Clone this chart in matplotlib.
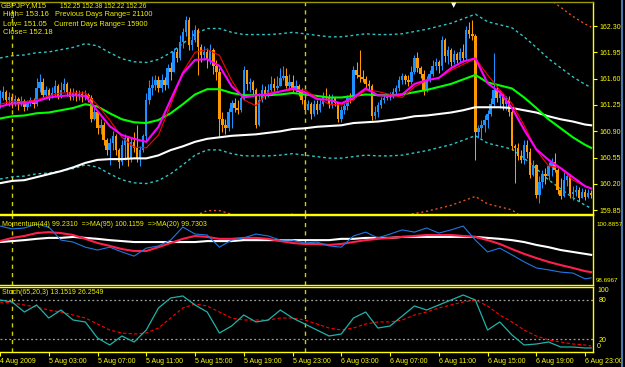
"""
GBPJPY M15 chart with moving averages, envelopes, momentum and stochastic panes.
"""

import matplotlib
matplotlib.use("Agg")
from matplotlib import pyplot as plt
from matplotlib.lines import Line2D

# 15-minute bars from 4 Aug 2009 23:00 to 6 Aug 23:30
first_open = 161.26
closes = [161.34, 161.42, 161.32, 161.35, 161.27, 161.33, 161.26, 161.30, 161.22, 161.27,
          161.32, 161.26, 161.47, 161.55, 161.38, 161.45, 161.37, 161.41, 161.50, 161.37,
          161.45, 161.53, 161.42, 161.35, 161.41, 161.37, 161.39, 161.35, 161.38, 161.34,
          161.07, 161.16, 160.94, 160.99, 160.78, 160.65, 160.74, 160.84, 160.65, 160.49,
          160.72, 160.81, 160.54, 160.76, 160.68, 160.54, 160.65, 160.84, 161.32, 161.47,
          161.51, 161.58, 161.47, 161.58, 161.51, 161.74, 161.69, 161.95, 161.87, 162.09,
          162.22, 162.38, 162.05, 162.11, 162.25, 162.02, 161.91, 161.95, 161.85, 161.98,
          161.77, 161.69, 161.07, 160.98, 160.94, 161.16, 161.27, 161.21, 161.18, 161.34,
          161.71, 161.53, 161.55, 161.45, 160.98, 161.32, 161.45, 161.38, 161.45, 161.53,
          161.47, 161.50, 161.61, 161.63, 161.50, 161.55, 161.45, 161.50, 161.42, 161.32,
          161.18, 161.26, 161.13, 161.26, 161.18, 161.26, 161.37, 161.35, 161.26, 161.34,
          161.27, 161.07, 161.18, 161.23, 161.34, 161.32, 161.71, 161.65, 161.62, 161.59,
          161.53, 161.50, 161.10, 161.16, 161.25, 161.32, 161.34, 161.35, 161.38, 161.42,
          161.47, 161.58, 161.63, 161.58, 161.55, 161.69, 161.87, 161.74, 161.66, 161.45,
          161.58, 161.66, 161.77, 161.82, 161.77, 162.11, 161.90, 161.98, 161.82, 161.93,
          161.85, 161.95, 161.87, 162.25, 162.19, 162.17, 160.89, 160.94, 160.99, 161.05,
          161.13, 161.26, 161.45, 161.34, 161.39, 161.26, 161.32, 161.16, 160.70, 160.68,
          160.57, 160.52, 160.72, 160.62, 160.32, 160.45, 160.05, 160.22, 160.33, 160.30,
          160.44, 160.49, 160.38, 160.12, 160.04, 160.25, 160.30, 160.06, 160.09, 160.12,
          160.01, 160.09, 160.02, 160.08, 160.05]
highs = [161.45, 161.50, 161.45, 161.42, 161.39, 161.38, 161.35, 161.37, 161.33, 161.32,
         161.35, 161.34, 161.61, 161.66, 161.61, 161.50, 161.47, 161.49, 161.58, 161.53,
         161.55, 161.61, 161.55, 161.47, 161.47, 161.45, 161.45, 161.43, 161.45, 161.41,
         161.38, 161.21, 161.16, 161.07, 161.02, 160.81, 160.81, 160.91, 160.86, 160.68,
         160.78, 160.87, 160.81, 160.81, 160.89, 160.98, 160.70, 160.87, 161.41, 161.58,
         161.63, 161.65, 161.63, 161.66, 161.62, 161.79, 161.82, 162.01, 162.01, 162.18,
         162.27, 162.43, 162.42, 162.25, 162.31, 162.27, 162.06, 162.03, 162.01, 162.06,
         162.01, 161.85, 161.74, 161.16, 161.07, 161.21, 161.32, 161.34, 161.32, 161.39,
         161.77, 161.71, 161.61, 161.58, 161.47, 161.41, 161.53, 161.50, 161.53, 161.63,
         161.61, 161.63, 161.74, 161.77, 161.74, 161.66, 161.65, 161.58, 161.53, 161.47,
         161.38, 161.32, 161.29, 161.32, 161.32, 161.33, 161.42, 161.47, 161.39, 161.39,
         161.34, 161.29, 161.23, 161.27, 161.38, 161.41, 161.77, 161.82, 161.98, 161.71,
         161.63, 161.58, 161.53, 161.23, 161.29, 161.35, 161.39, 161.39, 161.42, 161.47,
         161.51, 161.63, 161.67, 161.66, 161.65, 161.77, 161.91, 161.95, 161.77, 161.71,
         161.63, 161.71, 161.85, 161.87, 161.85, 162.17, 162.14, 162.03, 162.01, 161.98,
         161.95, 162.01, 162.06, 162.30, 162.35, 162.38, 162.19, 160.99, 161.05, 161.12,
         161.18, 161.34, 161.94, 161.50, 161.45, 161.39, 161.37, 161.37, 161.21, 160.73,
         160.74, 160.65, 160.78, 160.78, 160.68, 160.52, 160.46, 160.30, 160.38, 160.41,
         160.49, 160.54, 160.61, 160.41, 160.28, 160.36, 160.36, 160.33, 160.17, 160.18,
         160.16, 160.14, 160.13, 160.13, 160.12]
lows = [161.21, 161.32, 161.26, 161.23, 161.21, 161.23, 161.18, 161.23, 161.17, 161.18,
        161.23, 161.21, 161.23, 161.42, 161.34, 161.34, 161.32, 161.34, 161.37, 161.33,
        161.34, 161.42, 161.37, 161.32, 161.32, 161.30, 161.32, 161.29, 161.32, 161.29,
        161.02, 161.05, 160.87, 160.86, 160.72, 160.58, 160.45, 160.65, 160.58, 160.41,
        160.45, 160.52, 160.44, 160.49, 160.62, 160.49, 160.44, 160.62, 160.78, 161.26,
        161.38, 161.45, 161.42, 161.42, 161.45, 161.47, 161.58, 161.69, 161.82, 161.85,
        162.01, 162.17, 161.98, 161.98, 162.09, 161.65, 161.82, 161.85, 161.74, 161.79,
        161.66, 161.58, 160.82, 160.89, 160.86, 160.91, 160.94, 161.16, 161.13, 161.16,
        161.32, 161.45, 161.42, 161.37, 160.94, 160.97, 161.29, 161.33, 161.35, 161.42,
        161.42, 161.45, 161.50, 161.58, 161.47, 161.45, 161.42, 161.42, 161.37, 161.26,
        161.14, 161.18, 161.07, 161.10, 161.13, 161.16, 161.23, 161.32, 161.21, 161.21,
        161.23, 161.03, 161.02, 161.13, 161.18, 161.27, 161.32, 161.61, 161.55, 161.55,
        161.47, 161.45, 161.05, 161.07, 161.09, 161.21, 161.27, 161.32, 161.32, 161.34,
        161.38, 161.43, 161.53, 161.53, 161.50, 161.53, 161.66, 161.69, 161.61, 161.38,
        161.42, 161.55, 161.63, 161.71, 161.67, 161.71, 161.82, 161.79, 161.77, 161.79,
        161.81, 161.82, 161.82, 161.85, 162.14, 162.11, 160.52, 160.81, 160.81, 160.89,
        160.94, 161.10, 161.23, 161.29, 161.21, 161.18, 161.18, 161.10, 160.65, 160.21,
        160.52, 160.48, 160.46, 160.54, 160.28, 160.30, 160.01, 159.94, 160.14, 160.20,
        160.25, 160.30, 160.36, 160.06, 160.00, 160.02, 160.17, 160.01, 159.98, 160.04,
        159.97, 160.01, 159.98, 160.01, 160.01]

# indicator lines, read once per hour (every 4th bar) plus the last bar
line_bars = list(range(0, 193, 4)) + [194]
white_ma = [160.21, 160.24, 160.25, 160.29, 160.33, 160.37, 160.42, 160.48, 160.52, 160.53,
            160.53, 160.54, 160.54, 160.58, 160.65, 160.70, 160.76, 160.80, 160.82, 160.84,
            160.85, 160.86, 160.88, 160.90, 160.93, 160.94, 160.96, 160.97, 160.98, 161.01,
            161.02, 161.03, 161.05, 161.07, 161.10, 161.11, 161.13, 161.15, 161.18, 161.22,
            161.22, 161.22, 161.21, 161.18, 161.15, 161.10, 161.06, 161.03, 160.99, 160.98]
green_ma = [161.07, 161.10, 161.11, 161.14, 161.15, 161.18, 161.21, 161.26, 161.23, 161.14,
            161.06, 161.02, 161.01, 161.05, 161.14, 161.26, 161.39, 161.46, 161.46, 161.41,
            161.38, 161.38, 161.38, 161.39, 161.41, 161.39, 161.37, 161.35, 161.35, 161.37,
            161.39, 161.38, 161.38, 161.39, 161.42, 161.45, 161.49, 161.53, 161.59, 161.65,
            161.55, 161.51, 161.47, 161.35, 161.21, 161.06, 160.94, 160.82, 160.72, 160.68]
magenta_ma = [161.23, 161.27, 161.27, 161.30, 161.35, 161.37, 161.38, 161.37, 161.17, 160.97,
              160.85, 160.80, 160.76, 160.96, 161.32, 161.67, 161.85, 161.86, 161.77, 161.50,
              161.35, 161.38, 161.39, 161.43, 161.47, 161.42, 161.33, 161.32, 161.27, 161.35,
              161.47, 161.38, 161.37, 161.39, 161.53, 161.58, 161.61, 161.74, 161.83, 161.87,
              161.54, 161.42, 161.21, 160.92, 160.66, 160.52, 160.41, 160.29, 160.17, 160.14]
red_ma = [161.26, 161.30, 161.29, 161.32, 161.37, 161.41, 161.41, 161.41, 161.25, 161.05,
          160.82, 160.69, 160.68, 160.85, 161.25, 161.69, 161.95, 161.99, 161.91, 161.58,
          161.32, 161.24, 161.42, 161.43, 161.45, 161.45, 161.35, 161.26, 161.25, 161.32,
          161.45, 161.43, 161.39, 161.35, 161.49, 161.58, 161.61, 161.71, 161.79, 161.87,
          161.65, 161.45, 161.27, 160.98, 160.65, 160.44, 160.41, 160.25, 160.17, 160.14]
# envelopes around the green MA, in percent
ENV_INNER = 0.5
ENV_OUTER = 1.0

momentum = [100.54, 100.45, 100.48, 100.60, 100.51, 100.10, 100.04, 99.88, 99.79, 99.88,
            99.73, 99.60, 99.85, 99.92, 100.10, 100.51, 100.29, 100.26, 99.88, 100.10,
            100.17, 100.29, 100.23, 100.10, 100.10, 100.01, 100.04, 99.92, 99.88, 100.23,
            100.35, 100.17, 100.29, 100.42, 100.35, 100.48, 100.32, 100.42, 100.54, 100.10,
            99.73, 99.85, 99.64, 99.42, 99.23, 99.17, 99.10, 99.07, 98.89, 98.92]
momentum_ma20 = [100.07, 100.17, 100.23, 100.32, 100.35, 100.32, 100.26, 100.14, 100.01, 99.92,
                 99.82, 99.76, 99.76, 99.88, 100.01, 100.14, 100.23, 100.20, 100.14, 100.14,
                 100.17, 100.17, 100.14, 100.07, 100.01, 99.98, 99.98, 99.95, 99.98, 100.04,
                 100.10, 100.14, 100.17, 100.20, 100.23, 100.26, 100.26, 100.26, 100.23, 100.20,
                 100.10, 99.98, 99.82, 99.67, 99.54, 99.42, 99.32, 99.23, 99.13, 99.10]
momentum_ma95 = [100.04, 100.07, 100.10, 100.14, 100.17, 100.17, 100.20, 100.17, 100.14, 100.10,
                 100.07, 100.04, 100.04, 100.04, 100.04, 100.04, 100.04, 100.07, 100.07, 100.07,
                 100.10, 100.10, 100.10, 100.10, 100.10, 100.10, 100.10, 100.10, 100.14, 100.14,
                 100.17, 100.17, 100.17, 100.20, 100.20, 100.20, 100.20, 100.20, 100.20, 100.20,
                 100.17, 100.14, 100.10, 100.04, 99.95, 99.88, 99.79, 99.73, 99.67, 99.64]
MOM_MIN, MOM_MAX = 98.6967, 100.8857

stoch_k = [80.0, 76.9, 61.5, 72.3, 52.3, 64.6, 49.2, 46.2, 21.5, 10.8,
           24.6, 15.4, 33.8, 67.7, 83.1, 86.2, 72.3, 61.5, 29.2, 40.0,
           56.9, 46.2, 49.2, 64.6, 52.3, 43.1, 33.8, 24.6, 27.7, 52.3,
           61.5, 36.9, 40.0, 55.4, 70.8, 64.6, 72.3, 80.0, 87.7, 80.0,
           33.8, 46.2, 26.2, 10.8, 12.3, 15.4, 7.7, 7.7, 6.2, 6.2]
stoch_d = [76.9, 75.4, 72.3, 69.2, 64.6, 61.5, 56.9, 52.3, 43.1, 33.8,
           29.2, 27.7, 29.2, 36.9, 52.3, 67.7, 73.8, 70.8, 61.5, 52.3,
           49.2, 49.2, 49.2, 52.3, 52.3, 49.2, 43.1, 36.9, 33.8, 36.9,
           43.1, 46.2, 46.2, 49.2, 56.9, 61.5, 67.7, 72.3, 76.9, 80.0,
           70.8, 56.9, 46.2, 33.8, 24.6, 18.5, 15.4, 12.3, 10.8, 9.2]

price_ticks = [162.30, 161.95, 161.60, 161.25, 160.90, 160.55, 160.20, 159.85]
day_start_bars = [4, 100]
time_tick_bars = list(range(0, 193, 16))
time_tick_labels = ["4 Aug 2009", "5 Aug 03:00", "5 Aug 07:00", "5 Aug 11:00", "5 Aug 15:00",
                    "5 Aug 19:00", "5 Aug 23:00", "6 Aug 03:00", "6 Aug 07:00", "6 Aug 11:00",
                    "6 Aug 15:00", "6 Aug 19:00", "6 Aug 23:00"]

# colours
YELLOW = "#ffff00"
TEXT_YELLOW = "#f0f000"
UP_COLOR = "#1e90ff"
DOWN_COLOR = "#ff9900"
FONT = "Liberation Sans"

W, H = 625, 367
PLOT_RIGHT = 593


def px(x, y):
    return x / W, 1 - y / H


def make_panel(fig, top, bottom):
    ax = fig.add_axes([0, 1 - bottom / H, PLOT_RIGHT / W, (bottom - top) / H])
    ax.set_facecolor("black")
    ax.set_xlim(0, 194.6)
    ax.spines["left"].set_visible(False)
    for side in ("top", "bottom", "right"):
        ax.spines[side].set_color(YELLOW)
        ax.spines[side].set_linewidth(1)
    ax.tick_params(left=False, labelleft=False, bottom=False, labelbottom=False)
    for b in day_start_bars:
        ax.axvline(b, color="#d0d000", lw=1, dashes=(3, 3))
    return ax


fig = plt.figure(figsize=(W / 100, H / 100), dpi=100, facecolor="black")

# ---- price pane ----
ax = make_panel(fig, 2, 214)
ax.spines["top"].set_color("#9a9a00")
ax.set_ylim(159.80, 162.62)

opens = [first_open] + closes[:-1]
bars = list(range(len(closes)))
colors = [UP_COLOR if c >= o else DOWN_COLOR for o, c in zip(opens, closes)]
ax.vlines(bars, lows, highs, colors=colors, lw=0.75, zorder=2)
ax.bar(bars, [max(abs(c - o), 0.012) for o, c in zip(opens, closes)],
       bottom=[min(o, c) for o, c in zip(opens, closes)],
       width=0.8, color=colors, linewidth=0, zorder=3)

ax.plot(line_bars, [v * (1 + ENV_OUTER / 100) for v in green_ma], color="#e0501c", lw=1, dashes=(1.5, 2), zorder=1)
ax.plot(line_bars, [v * (1 - ENV_OUTER / 100) for v in green_ma], color="#e0501c", lw=1, dashes=(1.5, 2), zorder=1)
ax.plot(line_bars, [v * (1 + ENV_INNER / 100) for v in green_ma], color="#30c4c4", lw=1, dashes=(2, 2), zorder=1)
ax.plot(line_bars, [v * (1 - ENV_INNER / 100) for v in green_ma], color="#30c4c4", lw=1, dashes=(2, 2), zorder=1)
ax.plot(line_bars, white_ma, color="white", lw=1.5, zorder=4)
ax.plot(line_bars, green_ma, color="#00ff00", lw=1.5, zorder=4)
ax.plot(line_bars, red_ma, color="#ff0000", lw=0.8, zorder=4)
ax.plot(line_bars, magenta_ma, color="#ff00ff", lw=1.5, zorder=5)

ax.yaxis.tick_right()
ax.set_yticks(price_ticks)
ax.set_yticklabels([f"{t:.2f}" for t in price_ticks])
ax.tick_params(axis="y", right=True, labelright=True, colors=YELLOW, length=3, width=0.8,
               labelsize=5.0, pad=1.5)
for lbl in ax.get_yticklabels():
    lbl.set_fontfamily(FONT)

# ---- momentum pane ----
axm = make_panel(fig, 215, 285)
axm.set_ylim(MOM_MIN, MOM_MAX)
axm.plot(line_bars, momentum_ma95, color="white", lw=1.5)
axm.plot(line_bars, momentum_ma20, color="#ff1f4b", lw=1.5)
axm.plot(line_bars, momentum, color="#1e78e0", lw=0.8)

# ---- stochastic pane ----
axs = make_panel(fig, 287, 352)
axs.set_ylim(0, 100)
for level in (20, 80):
    axs.axhline(level, color="#a0a0a0", lw=0.9, dashes=(1.5, 2))
axs.plot(line_bars, stoch_d, color="#ff0000", lw=0.8, dashes=(3, 2))
axs.plot(line_bars, stoch_k, color="#20b2aa", lw=0.9)
axs.yaxis.tick_right()
axs.set_yticks([80, 20])
axs.set_yticklabels(["80", "20"])
axs.tick_params(axis="y", right=True, labelright=True, colors=YELLOW, length=0, labelsize=5.0, pad=4)
axs.set_xticks(time_tick_bars)
axs.set_xticklabels(time_tick_labels, ha="left")
axs.tick_params(axis="x", bottom=True, labelbottom=True, colors=YELLOW, length=3, width=0.8,
                labelsize=5.0, pad=1.5)
for lbl in axs.get_xticklabels() + axs.get_yticklabels():
    lbl.set_fontfamily(FONT)

# ---- text ----
def label(x, y, s, size=5.5, color=TEXT_YELLOW, ha="left"):
    fig.text(*px(x, y), s, color=color, fontsize=size, family=FONT, ha=ha, va="center")


label(1, 6, "GBPJPY,M15")
label(60, 6, "152.25 152.38 152.22 152.26", size=4.8)
label(3, 15, "High= 153.16")
label(55, 15, "Previous Days Range= 21100", size=5.3)
label(3, 24, "Low= 151.05")
label(54, 24, "Current Days Range= 15900", size=5.3)
label(3, 33, "Close= 152.18")
label(2, 225, "Momentum(44) 99.2310  =>MA(95) 100.1159  =>MA(20) 99.7303", size=5.0)
label(2, 293, "Stoch(65,20,3) 13.1519 26.2549", size=5.0)
label(596, 225, "100.8857", size=4.5, color=YELLOW)
label(596, 280, "98.6967", size=4.5, color=YELLOW)
label(597, 291, "100", size=5.0, color=YELLOW)
label(597, 347, "0", size=5.0, color=YELLOW)
fig.text(*px(454, 5), "\u25bc", color="white", fontsize=5, ha="center", va="center")

fig.add_artist(Line2D([622 / W, 622 / W], [0, 1], color="#4a78a8", lw=1.5, transform=fig.transFigure))

fig.savefig("out.png", dpi=100, facecolor="black")
